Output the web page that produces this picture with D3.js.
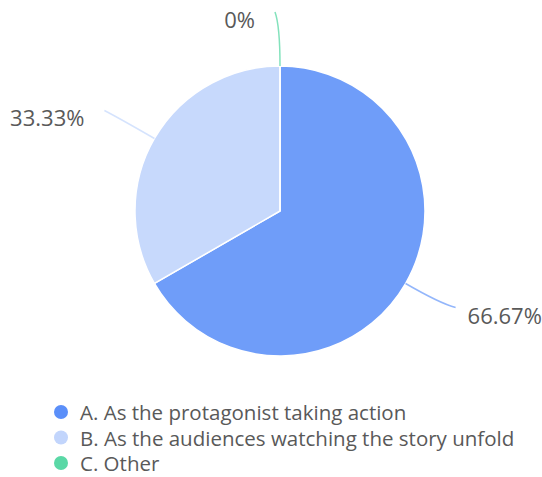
<!DOCTYPE html>
<html>
<head>
<meta charset="utf-8">
<script src="https://cdn.jsdelivr.net/npm/d3@7"></script>
<style>
  body { margin: 0; background: #fff; }
  text { font-family: "Open Sans", "Liberation Sans", sans-serif; }
</style>
</head>
<body>
<div id="container"></div>
<script>
/* CONSTANTS AND GLOBALS */
const width = 542,
  height = 477,
  cx = 280,
  cy = 211,
  radius = 145;

/* DATA */
const categories = ["A. As the protagonist taking action", "B. As the audiences watching the story unfold", "C. Other"];
const values = [66.67, 33.33, 0];
const valueLabels = ["66.67%", "33.33%", "0%"];
const sliceColors = ["#6f9df9", "#c7d9fc", "#5ad8a6"];
const legendColors = ["#5b8ff9", "#c2d5fc", "#5ad8a6"];

const rows = categories.map((c, i) => ({ name: c, value: values[i], label: valueLabels[i] }));

/* SVG */
const svg = d3.select("#container")
  .append("svg")
  .attr("width", width)
  .attr("height", height);

const color = d3.scaleOrdinal().domain(categories).range(sliceColors);
const legendColor = d3.scaleOrdinal().domain(categories).range(legendColors);

const pie = d3.pie().sort(null).value(d => d.value);
const arc = d3.arc().innerRadius(0).outerRadius(radius);
const arcs = pie(rows);

const g = svg.append("g").attr("transform", `translate(${cx},${cy})`);

// slices
g.selectAll("path.slice")
  .data(arcs)
  .join("path")
  .attr("class", "slice")
  .attr("d", arc)
  .attr("fill", d => color(d.data.name))
  .attr("stroke", "#fff")
  .attr("stroke-width", 1.5);

// label lines + labels
const pt = (a, r) => [Math.sin(a) * r, -Math.cos(a) * r];

arcs.forEach(d => {
  const mid = (d.startAngle + d.endAngle) / 2;
  const side = mid < Math.PI ? 1 : -1;
  const start = pt(mid, radius);
  const ctrl = pt(mid, radius + 40);
  const end = pt(mid, radius + 52);
  end[0] += side * 5;
  end[1] -= 2;

  g.append("path")
    .attr("d", `M${start[0]},${start[1]}Q${ctrl[0]},${ctrl[1]} ${end[0]},${end[1]}`)
    .attr("fill", "none")
    .attr("stroke", color(d.data.name))
    .attr("stroke-opacity", 0.75)
    .attr("stroke-width", 1.5);

  g.append("text")
    .attr("x", end[0] + (side > 0 ? 12 : -20))
    .attr("y", end[1] + 7)
    .attr("text-anchor", side > 0 ? "start" : "end")
    .attr("dominant-baseline", "central")
    .attr("font-size", 22)
    .attr("fill", "#595959")
    .text(d.data.label);
});

// legend
const legend = svg.append("g")
  .selectAll("g")
  .data(rows)
  .join("g")
  .attr("transform", (d, i) => `translate(61,${412 + i * 25.5})`);

legend.append("circle")
  .attr("r", 7)
  .attr("fill", d => legendColor(d.name));

legend.append("text")
  .attr("x", 19)
  .attr("dominant-baseline", "central")
  .attr("font-size", 20.5)
  .attr("fill", "#595959")
  .text(d => d.name);
</script>
</body>
</html>
